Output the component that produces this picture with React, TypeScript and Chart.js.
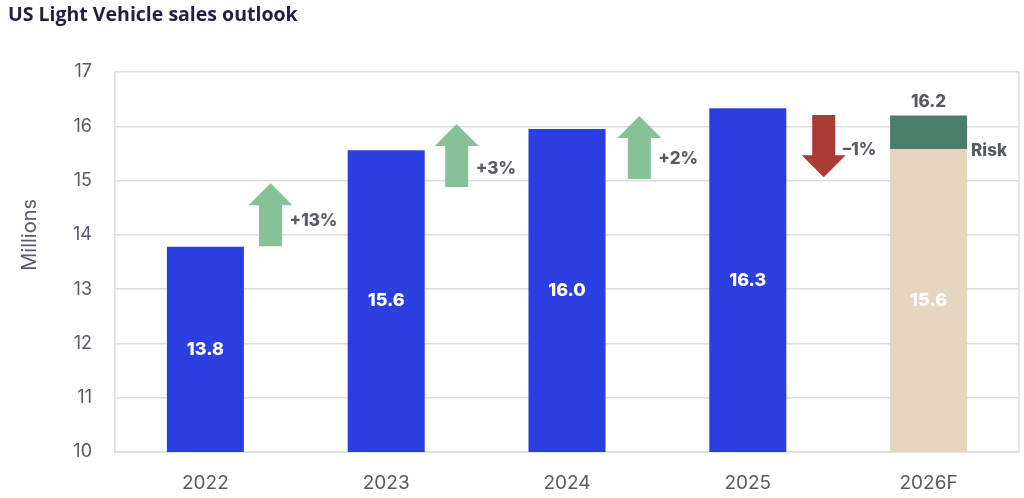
import React, { useEffect, useRef } from "react";
import { Chart, registerables } from "chart.js";

Chart.register(...registerables);

const categories = ["2022", "2023", "2024", "2025", "2026F"];
const actualSales = [13.78, 15.56, 15.95, 16.33, null];
const forecastBase = [null, null, null, null, 15.58];
const forecastRisk = [null, null, null, null, 0.62];
const barLabels = ["13.8", "15.6", "16.0", "16.3", "15.6"];
const forecastTotalLabel = "16.2";
const riskLabel = "Risk";
const riskLabelValue = 15.55;
const yAxisTitle = "Millions";
const yAxisTitleValue = 14.0;

// growth arrows between years
const arrowPositions = [0.36, 1.39, 2.4, 3.42];
const arrowFrom = [13.79, 14.88, 15.03, 16.21];
const arrowTo = [14.95, 16.04, 16.19, 15.06];
const arrowLabels = ["+13%", "+3%", "+2%", "\u20131%"];
const arrowLabelValues = [14.25, 15.22, 15.4, 15.56];

const yMin = 10;
const yMax = 17;

const BLUE = "#2b3ee0";
const BEIGE = "#e6d6bf";
const RISK_GREEN = "#4b7f6b";
const UP_GREEN = "#86c198";
const DOWN_RED = "#aa3b35";
const TEXT = "#575b66";
const GRID = "#dcdce2";
const FONT = "Inter, 'Open Sans', sans-serif";

const annotationPlugin = {
  id: "annotations",
  afterDatasetsDraw(chart: any) {
    const { ctx, chartArea, scales } = chart;
    const x = scales.x;
    const y = scales.y;
    ctx.save();
    // right border
    ctx.strokeStyle = GRID;
    ctx.lineWidth = 1.5;
    ctx.beginPath();
    ctx.moveTo(chartArea.right, chartArea.top);
    ctx.lineTo(chartArea.right, chartArea.bottom);
    ctx.stroke();

    // y axis title
    ctx.save();
    ctx.translate(30, y.getPixelForValue(yAxisTitleValue));
    ctx.rotate(-Math.PI / 2);
    ctx.fillStyle = TEXT;
    ctx.font = `400 20px ${FONT}`;
    ctx.textAlign = "center";
    ctx.textBaseline = "middle";
    ctx.fillText(yAxisTitle, 0, 0);
    ctx.restore();

    // bar value labels
    ctx.fillStyle = "#ffffff";
    ctx.font = `800 18px ${FONT}`;
    ctx.textAlign = "center";
    ctx.textBaseline = "middle";
    categories.forEach((_, i) => {
      const v = actualSales[i] ?? forecastBase[i];
      if (v == null) return;
      const top = y.getPixelForValue(v);
      const cy = (top + chartArea.bottom) / 2;
      ctx.fillText(barLabels[i], x.getPixelForValue(i), cy);
    });

    // forecast labels
    const fi = categories.length - 1;
    const riskMeta = chart.getDatasetMeta(2);
    const riskBar = riskMeta.data[fi];
    ctx.fillStyle = TEXT;
    ctx.font = `800 17px ${FONT}`;
    ctx.textAlign = "center";
    ctx.fillText(forecastTotalLabel, riskBar.x, riskBar.y - 14);
    ctx.textAlign = "left";
    ctx.fillText(riskLabel, riskBar.x + riskBar.width / 2 + 4, y.getPixelForValue(riskLabelValue));

    // arrows
    const headW = 44;
    const shaftW = 23;
    const headL = 22;
    arrowPositions.forEach((p, i) => {
      const cx = x.getPixelForValue(p);
      const tail = y.getPixelForValue(arrowFrom[i]);
      const tip = y.getPixelForValue(arrowTo[i]);
      const dir = tail > tip ? 1 : -1; // 1 = up
      const base = tip + dir * headL;
      ctx.fillStyle = dir === 1 ? UP_GREEN : DOWN_RED;
      ctx.beginPath();
      ctx.moveTo(cx, tip);
      ctx.lineTo(cx + headW / 2, base);
      ctx.lineTo(cx + shaftW / 2, base);
      ctx.lineTo(cx + shaftW / 2, tail);
      ctx.lineTo(cx - shaftW / 2, tail);
      ctx.lineTo(cx - shaftW / 2, base);
      ctx.lineTo(cx - headW / 2, base);
      ctx.closePath();
      ctx.fill();

      ctx.fillStyle = TEXT;
      ctx.font = `800 17px ${FONT}`;
      ctx.textAlign = "left";
      ctx.textBaseline = "middle";
      ctx.fillText(arrowLabels[i], cx + headW / 2 - 3, y.getPixelForValue(arrowLabelValues[i]));
    });
    ctx.restore();
  },
};

export default function App() {
  const canvasRef = useRef<HTMLCanvasElement | null>(null);

  useEffect(() => {
    if (!canvasRef.current) return;
    const chart = new Chart(canvasRef.current, {
      type: "bar",
      data: {
        labels: categories,
        datasets: [
          { label: "Sales", data: actualSales as any, backgroundColor: BLUE },
          { label: "Forecast", data: forecastBase as any, backgroundColor: BEIGE },
          { label: "Risk", data: forecastRisk as any, backgroundColor: RISK_GREEN },
        ],
      },
      options: {
        animation: false,
        responsive: true,
        maintainAspectRatio: false,
        layout: { padding: { left: 0, right: 5, top: 72, bottom: 0 } },
        plugins: { legend: { display: false }, tooltip: { enabled: false }, title: { display: false } },
        datasets: { bar: { categoryPercentage: 1, barPercentage: 0.426 } },
        scales: {
          x: {
            stacked: true,
            grid: { display: false, drawTicks: false },
            border: { color: GRID, width: 1.5 },
            ticks: { color: TEXT, font: { family: FONT, size: 19 }, padding: 20 },
            afterFit: (s: any) => { s.height = 46; },
          },
          y: {
            stacked: true,
            min: yMin,
            max: yMax,
            ticks: { stepSize: 1, color: TEXT, font: { family: FONT, size: 18 }, padding: 23 },
            grid: { color: GRID, lineWidth: 1.5, drawTicks: false },
            border: { color: GRID, width: 1.5 },
            afterFit: (s: any) => { s.width = 115; },
          },
        },
      },
      plugins: [annotationPlugin],
    });
    return () => chart.destroy();
  }, []);

  return (
    <div style={{ position: "fixed", left: 0, top: 0, width: 1024, height: 498, background: "#fff" }}>
      <div
        style={{
          position: "absolute",
          left: 8,
          top: 0,
          fontFamily: "'Open Sans', sans-serif",
          fontWeight: 700,
          fontSize: 19.5,
          color: "#1f2042",
          whiteSpace: "nowrap",
        }}
      >
        US Light Vehicle sales outlook
      </div>
      <canvas ref={canvasRef} style={{ width: "1024px", height: "498px" }} />
    </div>
  );
}
